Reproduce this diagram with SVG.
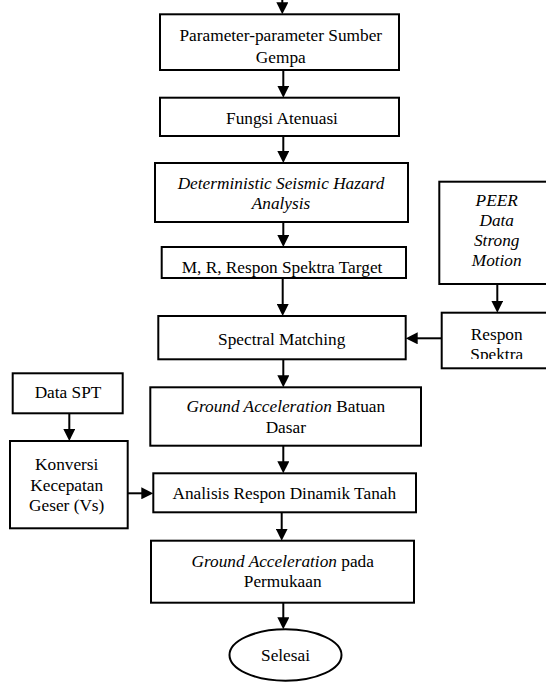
<svg xmlns="http://www.w3.org/2000/svg" width="546" height="682" viewBox="0 0 546 682">
<style>
.box{fill:#fff;stroke:#000;stroke-width:2}
.t{font-size:17.3px;fill:#000;text-anchor:middle}
.i{font-style:italic}
.c{fill:none;stroke:#000;stroke-width:2}
</style>
<defs>
<marker id="ah" markerUnits="userSpaceOnUse" markerWidth="12" markerHeight="12" refX="6" refY="6" orient="auto">
<path d="M0,0 L12,6 L0,12 z" fill="#000"/>
</marker>
<clipPath id="clipResp"><rect x="440" y="300" width="110" height="59"/></clipPath>
</defs>
<rect width="546" height="682" fill="#fff"/>
<g id="connectors">
<line class="c" x1="282.3" y1="-4" x2="282.3" y2="8.3" marker-end="url(#ah)"/>
<line class="c" x1="283.3" y1="70" x2="283.3" y2="91.7" marker-end="url(#ah)"/>
<line class="c" x1="283.3" y1="136" x2="283.3" y2="157" marker-end="url(#ah)"/>
<line class="c" x1="283.3" y1="222" x2="283.3" y2="241" marker-end="url(#ah)"/>
<line class="c" x1="282.7" y1="278" x2="282.7" y2="310" marker-end="url(#ah)"/>
<line class="c" x1="497.3" y1="284" x2="497.3" y2="306.7" marker-end="url(#ah)"/>
<line class="c" x1="441.7" y1="338.3" x2="411.7" y2="338.3" marker-end="url(#ah)"/>
<line class="c" x1="283.3" y1="359.3" x2="283.3" y2="381.3" marker-end="url(#ah)"/>
<line class="c" x1="69.3" y1="413.3" x2="69.3" y2="435" marker-end="url(#ah)"/>
<line class="c" x1="283.3" y1="445.7" x2="283.3" y2="467.3" marker-end="url(#ah)"/>
<line class="c" x1="127.7" y1="493.3" x2="147.3" y2="493.3" marker-end="url(#ah)"/>
<line class="c" x1="281.7" y1="512.3" x2="281.7" y2="534.7" marker-end="url(#ah)"/>
<line class="c" x1="283.3" y1="602.7" x2="283.3" y2="623.3" marker-end="url(#ah)"/>
</g>
<g font-family="'Liberation Serif', 'DejaVu Serif', serif">
<g id="n-parameter">
<rect class="box" x="160" y="14.3" width="239" height="55.7"/>
<text class="t" x="280.8" y="40.7">Parameter-parameter Sumber</text>
<text class="t" x="280.8" y="62.7">Gempa</text>
</g>
<g id="n-fungsi">
<rect class="box" x="160" y="97.7" width="239" height="38.3"/>
<text class="t" x="282" y="124">Fungsi Atenuasi</text>
</g>
<g id="n-dsha">
<rect class="box" x="155" y="163" width="253" height="59"/>
<text class="t i" x="281" y="188.5">Deterministic Seismic Hazard</text>
<text class="t i" x="281" y="208.5">Analysis</text>
</g>
<g id="n-mr">
<rect class="box" x="161.7" y="247" width="244.3" height="31"/>
<text class="t" x="282" y="273">M, R, Respon Spektra Target</text>
</g>
<g id="n-peer">
<rect class="box" x="439.3" y="181.7" width="110" height="102.3"/>
<text class="t i" x="496.7" y="205.5">PEER</text>
<text class="t i" x="496.7" y="225.5">Data</text>
<text class="t i" x="496.7" y="245.5">Strong</text>
<text class="t i" x="496.7" y="265.5">Motion</text>
</g>
<g id="n-respon">
<rect class="box" x="441.7" y="312.7" width="108" height="55.6"/>
<g clip-path="url(#clipResp)">
<text class="t" x="496.7" y="339.5">Respon</text>
<text class="t" x="496.7" y="360">Spektra</text>
</g>
</g>
<g id="n-spectral">
<rect class="box" x="158.3" y="316" width="247.4" height="43.3"/>
<text class="t" x="281.7" y="345">Spectral Matching</text>
</g>
<g id="n-gabatuan">
<rect class="box" x="150.3" y="387.3" width="270.7" height="58.4"/>
<text class="t" x="285.8" y="412.3"><tspan class="i">Ground Acceleration</tspan> Batuan</text>
<text class="t" x="285.8" y="433.3">Dasar</text>
</g>
<g id="n-spt">
<rect class="box" x="12.7" y="373.3" width="110" height="40"/>
<text class="t" x="68" y="398.3">Data SPT</text>
</g>
<g id="n-konversi">
<rect class="box" x="10" y="441" width="117.7" height="87.3"/>
<text class="t" x="66.7" y="470">Konversi</text>
<text class="t" x="66.7" y="490.7">Kecepatan</text>
<text class="t" x="66.7" y="510.7">Geser (Vs)</text>
</g>
<g id="n-analisis">
<rect class="box" x="153.3" y="473.3" width="262.7" height="39"/>
<text class="t" x="284.3" y="499.3">Analisis Respon Dinamik Tanah</text>
</g>
<g id="n-gapermukaan">
<rect class="box" x="151" y="540.7" width="263" height="62"/>
<text class="t" x="282.7" y="566.7"><tspan class="i">Ground Acceleration</tspan> pada</text>
<text class="t" x="282.7" y="587.3">Permukaan</text>
</g>
<g id="n-selesai">
<ellipse class="box" cx="285.5" cy="655" rx="56" ry="25.7"/>
<text class="t" x="285.5" y="660.5">Selesai</text>
</g>
</g>
</svg>
